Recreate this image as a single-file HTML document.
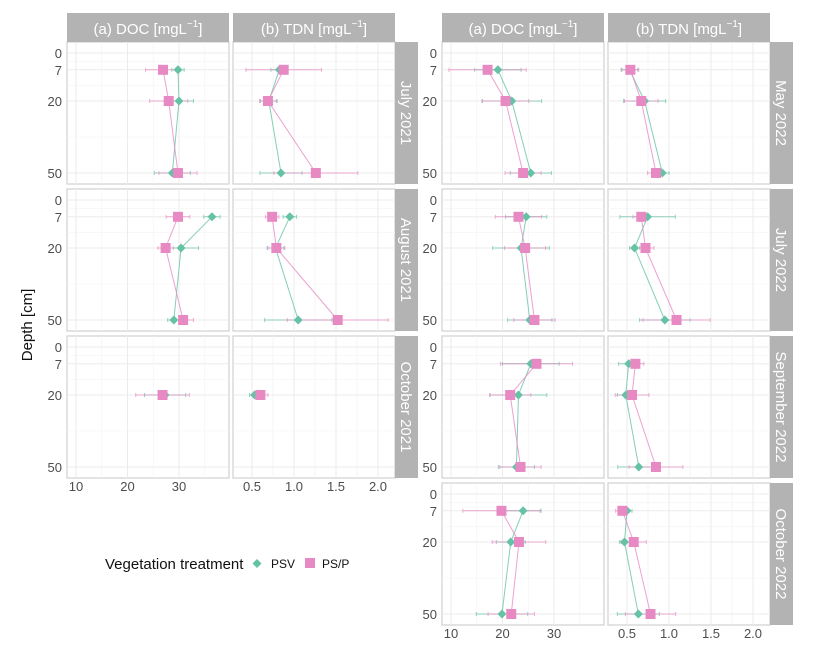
<!DOCTYPE html>
<html><head><meta charset="utf-8"><style>
html,body{margin:0;padding:0;background:#fff;}
svg{display:block;font-family:"Liberation Sans",Arial,sans-serif;}
</style></head><body>
<svg id="chart" width="819" height="655" viewBox="0 0 819 655" xmlns="http://www.w3.org/2000/svg">
<rect x="0" y="0" width="819" height="655" fill="#fff"/>
<g id="grid"></g><g id="marks"></g><g id="labels"></g>
<text x="32" y="325" transform="rotate(-90 32 325)" text-anchor="middle" font-size="15" fill="#111">Depth [cm]</text>
<g>
<text x="105" y="569" font-size="15" fill="#111">Vegetation treatment</text>
<path d="M257 559 L261.5 563.5 L257 568 L252.5 563.5Z" fill="#66c2a5"/>
<text x="271" y="568" font-size="12" fill="#111">PSV</text>
<rect x="305" y="558" width="10" height="10" fill="#e78ac3"/>
<text x="322" y="568" font-size="12" fill="#111">PS/P</text>
</g>
</svg>
<script>
const months = ["July 2021","August 2021","October 2021","May 2022","July 2022","September 2022","October 2022"];
const depths = [7,20,50];
const depthTicks = [0,7,20,50];
const docTicks = [10,20,30];
const tdnTicks = [0.5,1.0,1.5,2.0];
const docPSV = [[29.8,30,28.7],[36.4,30.4,29.0],[null,27.3,null],[19.1,21.8,25.5],[24.6,23.6,25.3],[25.5,23.1,22.7],[24.0,21.6,19.9]];
const docPSP = [[26.9,28.0,29.8],[29.8,27.4,30.8],[null,26.8,null],[17.1,20.6,24.0],[23.1,24.4,26.2],[26.6,21.5,23.5],[19.8,23.2,21.7]];
const docErrPSV = [[1.2,2.8,3.5],[1.6,3.4,1.2],[null,4.0,null],[4.5,5.8,4.0],[4.0,5.5,4.3],[5.5,5.5,3.5],[3.5,2.8,5.0]];
const docErrPSP = [[3.4,3.7,3.7],[2.3,1.5,2.0],[null,5.2,null],[7.5,4.5,3.5],[4.5,4.0,4.0],[7.0,4.0,4.0],[7.5,5.2,4.5]];
const tdnPSV = [[0.825,0.70,0.845],[0.95,0.78,1.05],[null,0.53,null],[0.53,0.71,0.92],[0.745,0.59,0.95],[0.52,0.485,0.64],[0.50,0.47,0.635]];
const tdnPSP = [[0.877,0.69,1.26],[0.74,0.79,1.52],[null,0.60,null],[0.54,0.67,0.845],[0.67,0.72,1.09],[0.60,0.56,0.845],[0.445,0.58,0.78]];
const tdnErrPSV = [[0.1,0.1,0.25],[0.08,0.1,0.4],[null,0.06,null],[0.1,0.25,0.08],[0.33,0.06,0.3],[0.12,0.1,0.25],[0.06,0.06,0.25]];
const tdnErrPSP = [[0.45,0.1,0.5],[0.08,0.1,0.6],[null,0.09,null],[0.1,0.2,0.1],[0.1,0.1,0.4],[0.1,0.2,0.32],[0.08,0.15,0.3]];

const NS="http://www.w3.org/2000/svg";
const G=document.getElementById('grid'),M=document.getElementById('marks'),L=document.getElementById('labels');
function mk(tag,attrs,parent){const e=document.createElementNS(NS,tag);for(const k in attrs)e.setAttribute(k,attrs[k]);parent.appendChild(e);return e;}
const GREEN="#66c2a5",PINK="#e78ac3";
function figX(i){return i<3?0:375;}
function rowTop(i){return 42+(i<3?i:i-3)*147;}
function yD(d,top){return top+11+d*2.4;}
function xDOC(v,ox){return ox+76+(v-10)*5.15;}
function xTDN(v,ox){return ox+252+(v-0.5)*84;}

// strips (column headers)
[0,375].forEach((ox,fi)=>{
  [["(a) DOC [mgL","]",67],["(b) TDN [mgL","]",233]].forEach((c,ci)=>{
    const r=mk('rect',{x:ox+c[2],y:13,width:162,height:29,fill:"#b3b3b3"},L);
    
    
    const t=mk('text',{x:ox+c[2]+81,y:34,'text-anchor':'middle','font-size':15,fill:'#fff'},L);
    
    
    t.appendChild(document.createTextNode(c[0]));
    const s=mk('tspan',{'font-size':10,dy:-7},t);s.textContent="−1";
    const e=mk('tspan',{dy:7},t);e.textContent=c[1];
  });
});

months.forEach((m,i)=>{
  const ox=figX(i),top=rowTop(i);
  // row strip
  const sr=mk('rect',{x:ox+395,y:top,width:23,height:142,fill:"#b3b3b3"},L);
  
  
  const cx=ox+401,cy=top+71;
  const st=mk('text',{x:cx,y:cy,transform:`rotate(90 ${cx} ${cy})`,'text-anchor':'middle','font-size':15,fill:'#fff'},L);
  
  
  st.textContent=m;
  // y tick labels
  depthTicks.forEach(d=>{
    const t=mk('text',{x:ox+62,y:yD(d,top)+5,'text-anchor':'end','font-size':13,fill:'#4d4d4d'},L);
    
    
    t.textContent=d;
  });
  [[67,'doc',xDOC,docTicks,[15,25,35],docPSV,docPSP,docErrPSV,docErrPSP],[233,'tdn',xTDN,tdnTicks,[0.75,1.25,1.75],tdnPSV,tdnPSP,tdnErrPSV,tdnErrPSP]].forEach(p=>{
    const px=ox+p[0],xf=p[2];
    const bg=mk('rect',{x:px,y:top,width:162,height:142,fill:'#fff',stroke:'#d0d0d0','stroke-width':1.2},G);
    
    
    [3.5,13.5,35].forEach(d=>mk('line',{x1:px,x2:px+162,y1:yD(d,top),y2:yD(d,top),stroke:'#f5f5f5','stroke-width':0.6},G));
    depthTicks.forEach(d=>mk('line',{x1:px,x2:px+162,y1:yD(d,top),y2:yD(d,top),stroke:'#ebebeb','stroke-width':1},G));
    p[4].forEach(v=>mk('line',{x1:xf(v,ox),x2:xf(v,ox),y1:top,y2:top+142,stroke:'#f2f2f2','stroke-width':0.7},G));
    p[3].forEach(v=>mk('line',{x1:xf(v,ox),x2:xf(v,ox),y1:top,y2:top+142,stroke:'#ebebeb','stroke-width':1},G));
    if(i===2||i===6){
      p[3].forEach(v=>{
        const t=mk('text',{x:xf(v,ox),y:top+155,'text-anchor':'middle','font-size':13,fill:'#4d4d4d'},L);
        
        
        t.textContent=p[1]==='tdn'?v.toFixed(1):v;
      });
    }
    [[p[5][i],p[7][i],GREEN,'psv'],[p[6][i],p[8][i],PINK,'psp']].forEach(s=>{
      const vals=s[0],errs=s[1],col=s[2];
      const pts=[];
      vals.forEach((v,k)=>{if(v!==null)pts.push([xf(v,ox),yD(depths[k],top)]);});
      if(pts.length>1){
        const pl=mk('polyline',{points:pts.map(q=>q.join(',')).join(' '),fill:'none',stroke:col,'stroke-width':1,opacity:0.8},M);
        
        
      }
      vals.forEach((v,k)=>{
        if(v===null)return;
        const y=yD(depths[k],top),x1=xf(v-errs[k],ox),x2=xf(v+errs[k],ox);
        const eb=mk('g',{stroke:col,'stroke-width':1,opacity:0.7},M);
        
        
        mk('line',{x1:x1,x2:x2,y1:y,y2:y},eb);
        mk('line',{x1:x1,x2:x1,y1:y-2,y2:y+2},eb);
        mk('line',{x1:x2,x2:x2,y1:y-2,y2:y+2},eb);
      });
    });
    [[p[5][i],GREEN,'psv'],[p[6][i],PINK,'psp']].forEach(s=>{
      s[0].forEach((v,k)=>{
        if(v===null)return;
        const x=xf(v,ox),y=yD(depths[k],top);
        let e;
        if(s[2]==='psv') e=mk('path',{d:`M${x} ${y-4.5} L${x+4.5} ${y} L${x} ${y+4.5} L${x-4.5} ${y}Z`,fill:GREEN},M);
        else e=mk('rect',{x:x-5,y:y-5,width:10,height:10,fill:PINK},M);
        
        
      });
    });
  });
});
</script>
</body></html>
